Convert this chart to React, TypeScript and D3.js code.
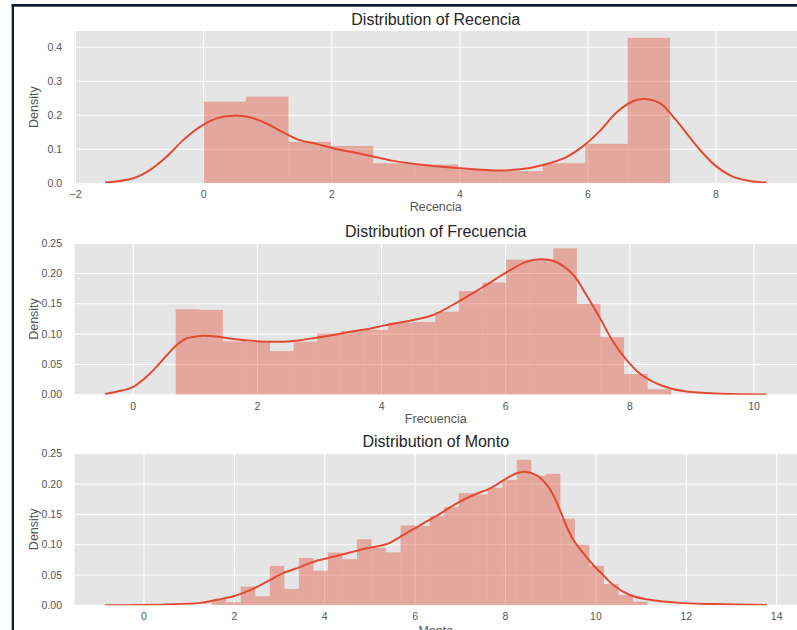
import React from "react";
import * as d3 from "d3";

// ---------- Data ----------
// Recencia
const recenciaHistStart = 0;
const recenciaHistWidth = 0.662;
const recenciaHist = [0.24, 0.255, 0.122, 0.11, 0.059, 0.055, 0.04, 0.036, 0.059, 0.116, 0.428];
const recenciaKdeX = [-1.54, -1.1, -0.84, -0.58, -0.32, -0.06, 0.2, 0.46, 0.72, 0.98, 1.24, 1.5, 1.76, 2.02, 2.5, 2.96, 3.48, 3.95, 4.52, 4.94, 5.3, 5.67, 5.93, 6.19, 6.45, 6.71, 6.89, 7.13, 7.33, 7.54, 7.75, 8.01, 8.27, 8.53, 8.79];
const recenciaKdeY = [0.002, 0.015, 0.039, 0.078, 0.127, 0.166, 0.191, 0.199, 0.194, 0.176, 0.15, 0.127, 0.116, 0.103, 0.085, 0.066, 0.053, 0.045, 0.038, 0.041, 0.054, 0.078, 0.11, 0.155, 0.209, 0.242, 0.248, 0.235, 0.196, 0.147, 0.098, 0.049, 0.019, 0.007, 0.002];
const recenciaXTicks = [-2, 0, 2, 4, 6, 8];
const recenciaYTicks = [0, 0.1, 0.2, 0.3, 0.4];

// Frecuencia
const frecuenciaHistStart = 0.683;
const frecuenciaHistWidth = 0.3802;
const frecuenciaHist = [0.141, 0.14, 0.088, 0.087, 0.072, 0.0875, 0.101, 0.105, 0.107, 0.119, 0.12, 0.137, 0.171, 0.185, 0.223, 0.223, 0.2416, 0.15, 0.095, 0.034, 0.009];
const frecuenciaKdeX = [-0.456, -0.27, 0, 0.27, 0.54, 0.7, 0.86, 1.07, 1.34, 1.61, 2.15, 2.42, 2.69, 2.95, 3.22, 3.49, 3.76, 4.03, 4.3, 4.83, 5.26, 5.64, 6.03, 6.34, 6.58, 6.82, 7.09, 7.3, 7.52, 7.73, 7.95, 8.16, 8.49, 8.86, 9.4, 10.2];
const frecuenciaKdeY = [0.001, 0.005, 0.013, 0.035, 0.065, 0.082, 0.093, 0.097, 0.096, 0.092, 0.0875, 0.0875, 0.09, 0.094, 0.0985, 0.104, 0.108, 0.114, 0.119, 0.1315, 0.155, 0.178, 0.203, 0.2195, 0.2234, 0.2185, 0.1975, 0.1645, 0.126, 0.0875, 0.057, 0.035, 0.016, 0.006, 0.002, 0.0005];
const frecuenciaXTicks = [0, 2, 4, 6, 8, 10];
const frecuenciaYTicks = [0, 0.05, 0.1, 0.15, 0.2, 0.25];

// Monto
const montoHistStart = 1.498;
const montoHistWidth = 0.3215;
const montoHist = [0.009, 0.005, 0.031, 0.015, 0.065, 0.027, 0.078, 0.057, 0.087, 0.076, 0.109, 0.095, 0.0875, 0.132, 0.131, 0.147, 0.162, 0.185, 0.183, 0.194, 0.207, 0.24, 0.214, 0.217, 0.143, 0.1, 0.065, 0.035, 0.017, 0.006];
const montoKdeX = [-0.86, 0.5, 1.24, 1.61, 1.98, 2.35, 2.72, 3.08, 3.45, 3.82, 4.19, 4.56, 4.93, 5.3, 5.44, 5.85, 6.18, 6.55, 6.92, 7.29, 7.66, 8.02, 8.25, 8.43, 8.7, 8.95, 9.1, 9.21, 9.35, 9.5, 9.72, 9.94, 10.16, 10.39, 10.75, 11.12, 11.86, 12.6, 13.78];
const montoKdeY = [0.0, 0.0015, 0.004, 0.009, 0.015, 0.025, 0.039, 0.053, 0.063, 0.0735, 0.08, 0.087, 0.094, 0.0995, 0.103, 0.121, 0.135, 0.151, 0.168, 0.182, 0.193, 0.2095, 0.218, 0.2205, 0.214, 0.195, 0.175, 0.156, 0.13, 0.108, 0.086, 0.0665, 0.05, 0.033, 0.017, 0.01, 0.004, 0.002, 0.0005];
const montoXTicks = [0, 2, 4, 6, 8, 10, 12, 14];
const montoYTicks = [0, 0.05, 0.1, 0.15, 0.2, 0.25];

const titles = ["Distribution of Recencia", "Distribution of Frecuencia", "Distribution of Monto"];
const xLabels = ["Recencia", "Frecuencia", "Monto"];

// ---------- Styles ----------
const W = 797;
const H = 630;
const LEFT = 74.5;
const RIGHT = 797;
const BG = "#E5E5E5";
const RED = "#E24A33";
const FONT = "'Liberation Sans', Arial, Helvetica, sans-serif";

type PanelProps = {
  top: number;
  bottom: number;
  xDomain: [number, number];
  yMax: number;
  histStart: number;
  histWidth: number;
  hist: number[];
  kdeX: number[];
  kdeY: number[];
  xTicks: number[];
  yTicks: number[];
  yFmt: string;
  title: string;
  xLabel: string;
  xLabelY: number;
  clipId: string;
};

function Panel(p: PanelProps) {
  const x = d3.scaleLinear().domain(p.xDomain).range([LEFT, RIGHT]);
  const y = d3.scaleLinear().domain([0, p.yMax]).range([p.bottom, p.top]);
  const fy = d3.format(p.yFmt);
  const fx = d3.format("d");
  const pts: [number, number][] = p.kdeX.map((v, i) => [v, p.kdeY[i]]);
  const line = d3
    .line<[number, number]>()
    .x((d) => x(d[0]))
    .y((d) => y(d[1]))
    .curve(d3.curveCatmullRom.alpha(0.5));
  const bins = p.hist.map((h, i) => ({
    x0: p.histStart + i * p.histWidth,
    x1: p.histStart + (i + 1) * p.histWidth,
    h,
  }));
  const midY = (p.top + p.bottom) / 2;
  return (
    <g>
      <defs>
        <clipPath id={p.clipId}>
          <rect x={LEFT} y={p.top} width={RIGHT - LEFT} height={p.bottom - p.top} />
        </clipPath>
      </defs>
      <rect x={LEFT} y={p.top} width={RIGHT - LEFT} height={p.bottom - p.top} fill={BG} />
      {p.yTicks.map((t) => (
        <line key={"gy" + t} x1={LEFT} x2={RIGHT} y1={y(t)} y2={y(t)} stroke="#ffffff" strokeWidth={1.1} />
      ))}
      {p.xTicks.map((t) => (
        <line key={"gx" + t} x1={x(t)} x2={x(t)} y1={p.top} y2={p.bottom} stroke="#ffffff" strokeWidth={1.1} />
      ))}
      <g clipPath={`url(#${p.clipId})`}>
        {bins.map((b, i) => (
          <rect
            key={i}
            x={x(b.x0)}
            y={y(b.h)}
            width={x(b.x1) - x(b.x0)}
            height={y(0) - y(b.h)}
            fill={RED}
            fillOpacity={0.4}
          />
        ))}
        <path d={line(pts) || ""} fill="none" stroke={RED} strokeWidth={2} />
      </g>
      {p.yTicks.map((t) => (
        <text
          key={"ty" + t}
          x={62}
          y={y(t)}
          dy="0.35em"
          textAnchor="end"
          fontSize={10.5}
          fill="#555555"
          fontFamily={FONT}
        >
          {fy(t)}
        </text>
      ))}
      {p.xTicks.map((t) => (
        <text
          key={"tx" + t}
          x={x(t)}
          y={p.bottom + 15}
          textAnchor="middle"
          fontSize={10.5}
          fill="#555555"
          fontFamily={FONT}
        >
          {fx(t)}
        </text>
      ))}
      <text
        x={(LEFT + RIGHT) / 2}
        y={p.top - 6.5}
        textAnchor="middle"
        fontSize={16}
        fill="#262626"
        fontFamily={FONT}
      >
        {p.title}
      </text>
      <text
        x={(LEFT + RIGHT) / 2}
        y={p.xLabelY}
        textAnchor="middle"
        fontSize={12.5}
        fill="#555555"
        fontFamily={FONT}
      >
        {p.xLabel}
      </text>
      <text
        transform={`translate(37.5,${midY}) rotate(-90)`}
        textAnchor="middle"
        fontSize={12.5}
        fill="#555555"
        fontFamily={FONT}
      >
        Density
      </text>
    </g>
  );
}

export default function App() {
  return (
    <svg
      width={W}
      height={H}
      viewBox={`0 0 ${W} ${H}`}
      style={{ position: "absolute", left: 0, top: 0, background: "#ffffff" }}
    >
      <rect x={0} y={0} width={W} height={H} fill="#ffffff" />
      <Panel
        top={31}
        bottom={183.3}
        xDomain={[-2.017, 9.264]}
        yMax={0.448}
        histStart={recenciaHistStart}
        histWidth={recenciaHistWidth}
        hist={recenciaHist}
        kdeX={recenciaKdeX}
        kdeY={recenciaKdeY}
        xTicks={recenciaXTicks}
        yTicks={recenciaYTicks}
        yFmt=".1f"
        title={titles[0]}
        xLabel={xLabels[0]}
        xLabelY={210.5}
        clipId="c1"
      />
      <Panel
        top={243.3}
        bottom={394.7}
        xDomain={[-0.947, 10.693]}
        yMax={0.2498}
        histStart={frecuenciaHistStart}
        histWidth={frecuenciaHistWidth}
        hist={frecuenciaHist}
        kdeX={frecuenciaKdeX}
        kdeY={frecuenciaKdeY}
        xTicks={frecuenciaXTicks}
        yTicks={frecuenciaYTicks}
        yFmt=".2f"
        title={titles[1]}
        xLabel={xLabels[1]}
        xLabelY={423}
        clipId="c2"
      />
      <Panel
        top={453.3}
        bottom={605.3}
        xDomain={[-1.538, 14.45]}
        yMax={0.2508}
        histStart={montoHistStart}
        histWidth={montoHistWidth}
        hist={montoHist}
        kdeX={montoKdeX}
        kdeY={montoKdeY}
        xTicks={montoXTicks}
        yTicks={montoYTicks}
        yFmt=".2f"
        title={titles[2]}
        xLabel={xLabels[2]}
        xLabelY={634.5}
        clipId="c3"
      />
      {/* screenshot frame */}
      <rect x={11.7} y={4} width={W - 11.7} height={2.7} fill="#0f1c2b" />
      <rect x={11.7} y={4} width={2.3} height={H - 4} fill="#0f1c2b" />
    </svg>
  );
}
